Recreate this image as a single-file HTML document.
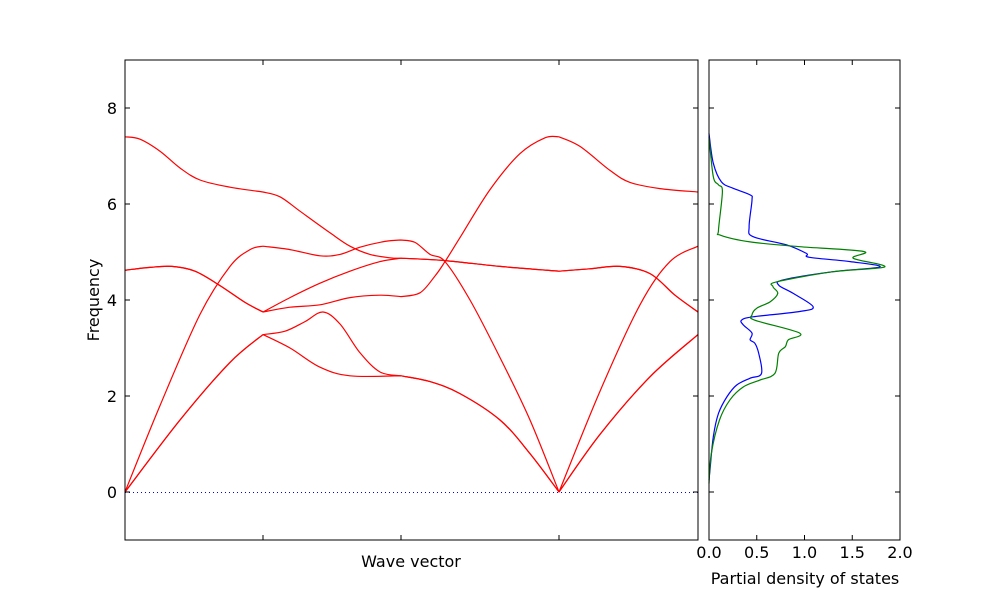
<!DOCTYPE html>
<html><head><meta charset="utf-8"><style>
html,body{margin:0;padding:0;background:#fff;}
svg text{font-family:"DejaVu Sans","Liberation Sans",sans-serif;font-size:16px;fill:#000;}
</style></head><body>
<svg id="chart" width="1000" height="600" xmlns="http://www.w3.org/2000/svg">
<rect width="1000" height="600" fill="#fff"/>
<g id="bands"></g>
<g id="dos"></g>
<text x="411" y="567" text-anchor="middle">Wave vector</text>
<text x="805" y="584" text-anchor="middle">Partial density of states</text>
<text transform="translate(99,300) rotate(-90)" text-anchor="middle">Frequency</text>
</svg>
<script>
// band data: x = path distance, y = frequency
const bandTicks = [0, 138, 276, 434, 573];
const band1 = [[0,7.4],[15,7.35],[35,7.1],[55,6.75],[75,6.5],[105,6.35],[138,6.25],[155,6.15],[175,5.85],[205,5.4],[225,5.12],[245,4.95],[265,4.88],[276,4.87],[320,4.82],[375,4.7],[434,4.6],[465,4.65],[495,4.7],[525,4.55],[550,4.1],[573,3.75]];
const band2 = [[0,4.62],[25,4.68],[47,4.7],[70,4.6],[95,4.3],[120,3.95],[138,3.75],[165,4.05],[195,4.35],[225,4.6],[255,4.8],[276,4.87],[320,4.82],[375,4.7],[434,4.6],[465,4.65],[495,4.7],[525,4.55],[550,4.1],[573,3.75]];
const band3 = [[0,4.62],[25,4.68],[47,4.7],[70,4.6],[95,4.3],[120,3.95],[138,3.75],[165,3.85],[195,3.9],[225,4.05],[255,4.1],[276,4.07],[295,4.15],[310,4.5],[320,4.8],[335,5.3],[365,6.3],[395,7.05],[420,7.38],[434,7.4],[455,7.2],[485,6.7],[505,6.45],[535,6.32],[573,6.25]];
const band4 = [[0,0],[35,1.8],[75,3.7],[105,4.7],[125,5.05],[138,5.12],[165,5.05],[195,4.92],[215,4.95],[235,5.1],[260,5.22],[276,5.25],[290,5.2],[305,4.95],[320,4.8],[345,4.0],[375,2.8],[405,1.5],[434,0],[475,2.1],[515,3.9],[545,4.8],[573,5.12]];
const band5 = [[0,0],[55,1.5],[105,2.7],[138,3.28],[160,3.35],[180,3.55],[198,3.75],[215,3.5],[235,2.9],[255,2.5],[276,2.42],[305,2.3],[335,2.05],[375,1.5],[405,0.8],[434,0],[475,1.2],[525,2.4],[573,3.28]];
const band6 = [[0,0],[55,1.5],[105,2.7],[138,3.28],[165,3.0],[195,2.6],[225,2.42],[276,2.42],[305,2.3],[335,2.05],[375,1.5],[405,0.8],[434,0],[475,1.2],[525,2.4],[573,3.28]];
const bandSeries = [band1, band2, band3, band4, band5, band6];
const freqTicks = [0, 2, 4, 6, 8];
// DOS data: [frequency, dos]
const dosBlue = [[7.47,0],[6.85,0.045],[6.46,0.13],[6.33,0.25],[6.19,0.43],[6.08,0.45],[5.53,0.42],[5.32,0.46],[5.15,0.81],[4.97,1.02],[4.89,1.05],[4.80,1.48],[4.69,1.79],[4.59,1.30],[4.42,0.78],[4.31,0.73],[4.14,0.88],[3.86,1.09],[3.76,0.95],[3.65,0.46],[3.58,0.34],[3.48,0.36],[3.31,0.45],[3.17,0.43],[3.10,0.48],[2.89,0.52],[2.47,0.55],[2.37,0.43],[2.23,0.29],[1.99,0.19],[1.64,0.10],[1.15,0.045],[0.46,0.01],[0.25,0]];
const dosGreen = [[7.40,0],[6.57,0.045],[6.40,0.10],[6.26,0.14],[5.46,0.10],[5.35,0.12],[5.21,0.43],[5.11,0.95],[5.01,1.62],[4.87,1.51],[4.69,1.84],[4.59,1.30],[4.38,0.71],[4.28,0.67],[4.14,0.72],[3.96,0.64],[3.83,0.50],[3.69,0.45],[3.58,0.48],[3.31,0.95],[3.17,0.83],[3.03,0.80],[2.89,0.73],[2.47,0.69],[2.33,0.53],[2.19,0.36],[1.92,0.22],[1.50,0.11],[0.81,0.025],[0.18,0]];
const dosTicks = [0, 0.5, 1.0, 1.5, 2.0];
const dosTickLabels = ["0.0","0.5","1.0","1.5","2.0"];

const NS="http://www.w3.org/2000/svg";
const L={x0:125,x1:698,y0:60,y1:540}, R={x0:709,x1:900};
const fy=v=>L.y1-(v+1)/10*(L.y1-L.y0);
const bx=v=>L.x0+v/bandTicks[bandTicks.length-1]*(L.x1-L.x0);
const dx=v=>R.x0+v/2*(R.x1-R.x0);
function mk(tag,attrs,parent){const e=document.createElementNS(NS,tag);for(const k in attrs)e.setAttribute(k,attrs[k]);parent.appendChild(e);return e;}
function smooth(pts){let d=`M${pts[0][0].toFixed(1)},${pts[0][1].toFixed(1)}`;for(let i=0;i<pts.length-1;i++){const p0=pts[i-1]||pts[i],p1=pts[i],p2=pts[i+1],p3=pts[i+2]||p2;const c1=[p1[0]+(p2[0]-p0[0])/6,p1[1]+(p2[1]-p0[1])/6],c2=[p2[0]-(p3[0]-p1[0])/6,p2[1]-(p3[1]-p1[1])/6];d+=` C${c1[0].toFixed(1)},${c1[1].toFixed(1)} ${c2[0].toFixed(1)},${c2[1].toFixed(1)} ${p2[0].toFixed(1)},${p2[1].toFixed(1)}`;}return d;}
function segmented(b){
  let d='';
  for(let s=0;s<bandTicks.length-1;s++){
    const seg=b.filter(q=>q[0]>=bandTicks[s]&&q[0]<=bandTicks[s+1]);
    if(seg.length>1) d+=smooth(seg.map(q=>[bx(q[0]),fy(q[1])]))+' ';
  }
  return d;
}
const gb=document.getElementById('bands'), gd=document.getElementById('dos');
// zero line
let z=mk('line',{x1:L.x0,x2:L.x1,y1:fy(0)+0.5,y2:fy(0)+0.5,stroke:'#0000ff','stroke-width':1,'stroke-dasharray':'1,3'},gb);


bandSeries.forEach((b,i)=>{
  const p=mk('path',{d:segmented(b),fill:'none',stroke:'#ff0000','stroke-width':1.2},gb);
  
  
});
// frame & ticks left
const f1=mk('rect',{x:L.x0,y:L.y0,width:L.x1-L.x0,height:L.y1-L.y0,fill:'none',stroke:'#000','stroke-width':1},gb);


freqTicks.forEach(t=>{
  const y=fy(t);
  mk('line',{x1:L.x0,x2:L.x0+5,y1:y,y2:y,stroke:'#000'},gb);
  mk('line',{x1:L.x1,x2:L.x1-5,y1:y,y2:y,stroke:'#000'},gb);
  mk('line',{x1:R.x0,x2:R.x0+5,y1:y,y2:y,stroke:'#000'},gd);
  mk('line',{x1:R.x1,x2:R.x1-5,y1:y,y2:y,stroke:'#000'},gd);
  const tx=mk('text',{x:L.x0-8,y:y+6,'text-anchor':'end'},gb);tx.textContent=t;
  
  
});
bandTicks.slice(1,-1).forEach(t=>{
  const x=bx(t);
  mk('line',{x1:x,x2:x,y1:L.y1,y2:L.y1-5,stroke:'#000'},gb);
  mk('line',{x1:x,x2:x,y1:L.y0,y2:L.y0+5,stroke:'#000'},gb);
});
// DOS
[[dosBlue,'#0000ff','dos-blue'],[dosGreen,'#008000','dos-green']].forEach(([s,c,n])=>{
  const p=mk('path',{d:smooth(s.map(q=>[dx(q[1]),fy(q[0])])),fill:'none',stroke:c,'stroke-width':1.2},gd);
  
  
});
const f2=mk('rect',{x:R.x0,y:L.y0,width:R.x1-R.x0,height:L.y1-L.y0,fill:'none',stroke:'#000','stroke-width':1},gd);


dosTicks.forEach((t,i)=>{
  const x=dx(t);
  mk('line',{x1:x,x2:x,y1:L.y1,y2:L.y1-5,stroke:'#000'},gd);
  mk('line',{x1:x,x2:x,y1:L.y0,y2:L.y0+5,stroke:'#000'},gd);
  const tx=mk('text',{x:x,y:L.y1+18,'text-anchor':'middle'},gd);tx.textContent=dosTickLabels[i];
  
  
});
</script>
</body></html>
